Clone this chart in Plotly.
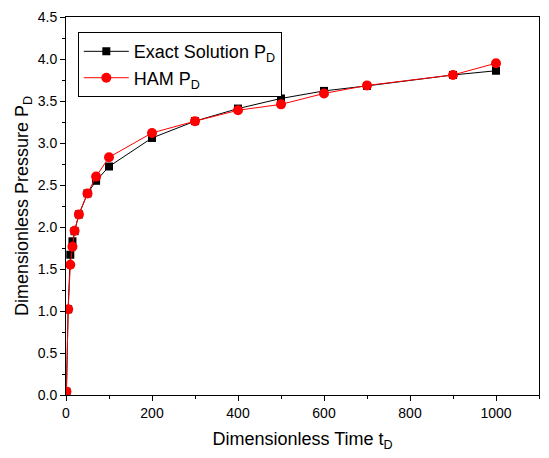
import plotly.graph_objects as go

t_exact = [1, 5, 10, 15, 20, 30, 50, 70, 100, 200, 300, 400, 500, 600, 700, 900, 1000]
p_exact = [0.04, 1.02, 1.67, 1.83, 1.95, 2.15, 2.40, 2.55, 2.72, 3.06, 3.26, 3.41, 3.53, 3.62, 3.68, 3.81, 3.86]

t_ham = [1, 5, 10, 15, 20, 30, 50, 70, 100, 200, 300, 400, 500, 600, 700, 900, 1000]
p_ham = [0.04, 1.02, 1.55, 1.765, 1.955, 2.15, 2.40, 2.60, 2.83, 3.12, 3.26, 3.39, 3.46, 3.59, 3.685, 3.81, 3.95]

FONT = "Liberation Sans"

fig = go.Figure()
fig.add_trace(go.Scatter(
    x=t_exact, y=p_exact, mode="lines+markers",
    name="Exact Solution P<sub>D</sub>",
    line=dict(color="black", width=1),
    marker=dict(symbol="square", size=8, color="black"),
))
fig.add_trace(go.Scatter(
    x=t_ham, y=p_ham, mode="lines+markers",
    name="HAM P<sub>D</sub>",
    line=dict(color="#ff0000", width=1),
    marker=dict(symbol="circle", size=10, color="#ff0000"),
))

axis_common = dict(
    showline=True, linecolor="black", linewidth=1, mirror=True,
    ticks="outside", ticklen=5, tickcolor="black", tickwidth=1,
    showgrid=False, zeroline=False,
    tickfont=dict(family=FONT, size=14, color="black"),
    title_font=dict(family=FONT, size=18, color="black"),
)

fig.update_xaxes(
    range=[0, 1100], tickvals=[0, 200, 400, 600, 800, 1000],
    minor=dict(tickvals=[100, 300, 500, 700, 900, 1100], ticks="outside", ticklen=3, tickcolor="black"),
    title_text="Dimensionless Time t<sub>D</sub>", title_standoff=12,
    **axis_common,
)
fig.update_yaxes(
    range=[0, 4.5], tickvals=[0, 0.5, 1, 1.5, 2, 2.5, 3, 3.5, 4, 4.5], tickformat=".1f",
    minor=dict(dtick=0.25, tick0=0, ticks="outside", ticklen=3, tickcolor="black"),
    title_text="Dimensionless Pressure P<sub>D</sub>", title_standoff=4,
    **axis_common,
)

fig.update_layout(
    width=549, height=458,
    margin=dict(l=66, r=9, t=15, b=63),
    paper_bgcolor="white", plot_bgcolor="white",
    font=dict(family=FONT, color="black"),
    legend=dict(
        x=0.025, y=0.96, xanchor="left", yanchor="top",
        bordercolor="black", borderwidth=1, bgcolor="white",
        font=dict(family=FONT, size=18, color="black"),
        tracegroupgap=0, itemwidth=45,
    ),
)

fig.write_html("out.html")
